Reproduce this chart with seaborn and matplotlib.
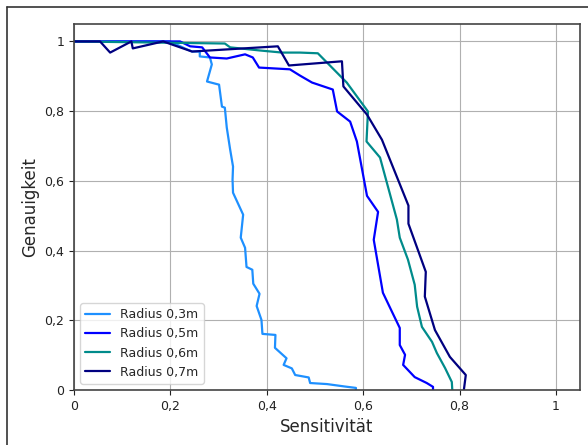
"""Precision over sensitivity for several radii."""
import pandas as pd
import seaborn as sns
import matplotlib.pyplot as plt
from matplotlib.lines import Line2D
from matplotlib.ticker import FuncFormatter

labels = ["Radius 0,3m", "Radius 0,5m", "Radius 0,6m", "Radius 0,7m"]
colors = ["#1e90ff", "#0000ff", "#008b8b", "#000080"]

sens_03 = [0, 0.199, 0.230, 0.245, 0.261, 0.261, 0.282, 0.286, 0.276, 0.301,
           0.307, 0.313, 0.317, 0.324, 0.330, 0.329, 0.330, 0.351, 0.346,
           0.355, 0.358, 0.370, 0.372, 0.385, 0.379, 0.389, 0.391, 0.418,
           0.417, 0.441, 0.435, 0.452, 0.459, 0.487, 0.490, 0.525, 0.562,
           0.585, 0.585]
prec_03 = [1.0, 1.0, 0.980, 0.971, 0.971, 0.957, 0.954, 0.934, 0.885, 0.876,
           0.813, 0.810, 0.753, 0.690, 0.641, 0.603, 0.566, 0.503, 0.437,
           0.408, 0.353, 0.345, 0.305, 0.276, 0.241, 0.201, 0.161, 0.158,
           0.121, 0.091, 0.072, 0.062, 0.043, 0.036, 0.020, 0.017, 0.010,
           0.006, 0.0]

sens_05 = [0, 0.220, 0.241, 0.266, 0.282, 0.317, 0.355, 0.371, 0.384, 0.448,
           0.469, 0.494, 0.537, 0.546, 0.573, 0.587, 0.608, 0.631, 0.622,
           0.641, 0.660, 0.676, 0.676, 0.687, 0.683, 0.707, 0.732, 0.745,
           0.745]
prec_05 = [1.0, 1.0, 0.986, 0.983, 0.954, 0.951, 0.963, 0.954, 0.925, 0.920,
           0.902, 0.882, 0.862, 0.799, 0.770, 0.713, 0.557, 0.511, 0.431,
           0.279, 0.224, 0.178, 0.129, 0.101, 0.072, 0.037, 0.020, 0.009,
           0.0]

sens_06 = [0, 0.313, 0.324, 0.386, 0.432, 0.469, 0.506, 0.531, 0.566, 0.610,
           0.607, 0.635, 0.670, 0.676, 0.693, 0.707, 0.712, 0.722, 0.743,
           0.753, 0.770, 0.784, 0.785]
prec_06 = [1.0, 0.994, 0.983, 0.974, 0.968, 0.968, 0.966, 0.931, 0.882, 0.799,
           0.713, 0.667, 0.489, 0.437, 0.374, 0.302, 0.239, 0.181, 0.138,
           0.106, 0.063, 0.023, 0.0]

sens_07 = [0, 0.054, 0.075, 0.119, 0.122, 0.185, 0.245, 0.423, 0.446, 0.556,
           0.559, 0.608, 0.639, 0.694, 0.694, 0.730, 0.728, 0.749, 0.780,
           0.813, 0.809]
prec_07 = [1.0, 1.0, 0.968, 1.0, 0.980, 1.0, 0.971, 0.986, 0.931, 0.943,
           0.871, 0.790, 0.718, 0.529, 0.477, 0.339, 0.268, 0.172, 0.095,
           0.043, 0.0]

series = [(sens_03, prec_03), (sens_05, prec_05), (sens_06, prec_06), (sens_07, prec_07)]
ticks = [0, 0.2, 0.4, 0.6, 0.8, 1.0]

sns.set_style("ticks", {"axes.grid": True, "grid.color": "#b0b0b0",
                        "axes.edgecolor": "#333333", "xtick.color": "#333333",
                        "ytick.color": "#333333"})
plt.rcParams["font.family"] = ["DejaVu Sans"]

fig = plt.figure(figsize=(5.88, 4.45), dpi=100)
ax = fig.add_axes([74 / 588, 1 - 390 / 445, 506 / 588, 366 / 445])

for (sens, prec), label, color in zip(series, labels, colors):
    df = pd.DataFrame({"Sensitivität": sens, "Genauigkeit": prec})
    sns.lineplot(data=df, x="Sensitivität", y="Genauigkeit", sort=False,
                 estimator=None, color=color, linewidth=1.6, label=label, ax=ax)

ax.set_xlim(0, 1.05)
ax.set_ylim(0, 1.05)
ax.set_xticks(ticks)
ax.set_yticks(ticks)
fmt = FuncFormatter(lambda v, _: f"{v:g}".replace(".", ","))
ax.xaxis.set_major_formatter(fmt)
ax.yaxis.set_major_formatter(fmt)
ax.tick_params(labelsize=9, colors="#222222")
ax.grid(True, color="#b0b0b0", linewidth=0.8)
for spine in ax.spines.values():
    spine.set_visible(True)
    spine.set_linewidth(1.2)
    spine.set_color("#444444")
ax.set_xlabel("Sensitivität", fontsize=12)
ax.set_ylabel("Genauigkeit", fontsize=12)
ax.legend(loc="lower left", fontsize=9, frameon=True)

fig.add_artist(Line2D([7 / 588, 1], [1 - 7 / 445, 1 - 7 / 445], color="#333333", linewidth=1.2))
fig.add_artist(Line2D([7 / 588, 7 / 588], [0, 1 - 7 / 445], color="#333333", linewidth=1.2))

fig.savefig("out.png", dpi=100)
